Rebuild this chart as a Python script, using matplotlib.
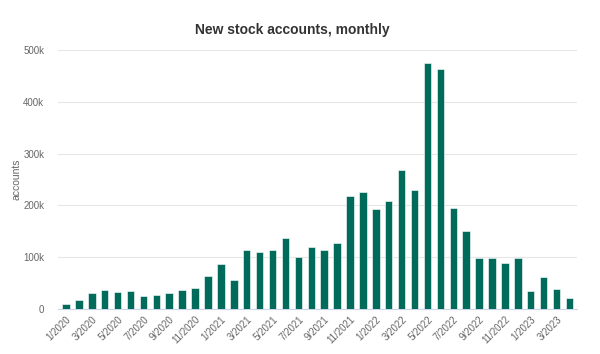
import matplotlib.pyplot as plt
from matplotlib.ticker import FuncFormatter

# monthly new stock accounts, 1/2020 .. 4/2023
months = [f"{m}/{y}" for y in range(2020, 2024) for m in range(1, 13)][:40]
accounts = [9, 17, 31, 36, 33, 34, 26, 28, 31, 36,
            41, 63, 86, 56, 113, 110, 113, 138, 100, 120,
            113, 128, 219, 225, 193, 209, 269, 229, 474, 464,
            195, 151, 98, 98, 88, 98, 34, 62, 39, 22]
accounts = [a * 1000 for a in accounts]

plt.rcParams['font.family'] = ['Liberation Sans', 'DejaVu Sans']

fig = plt.figure(figsize=(6, 3.54), dpi=100)
ax = fig.add_axes([0.097, 0.127, 0.865, 0.732])

x = range(len(months))
ax.bar(x, accounts, width=0.58, color='#006a5b', edgecolor='white', linewidth=0.4, zorder=3)

ax.set_xlim(-0.6, len(months) - 0.4)
ax.set_ylim(0, 500000)
ax.set_yticks([0, 100000, 200000, 300000, 400000, 500000])
ax.yaxis.set_major_formatter(FuncFormatter(lambda v, p: '0' if v == 0 else f'{int(v / 1000)}k'))
ax.grid(axis='y', color='#e6e6e6', linewidth=0.8, zorder=0)

ax.set_xticks(list(x)[::2])
ax.set_xticklabels(months[::2], rotation=45, ha='right', rotation_mode='anchor')

for s in ['top', 'right', 'left']:
    ax.spines[s].set_visible(False)
ax.spines['bottom'].set_color('#ccd6eb')
ax.tick_params(axis='both', length=0, labelsize=7, colors='#666666')
ax.tick_params(axis='x', pad=4)
ax.tick_params(axis='y', pad=10)

ax.set_ylabel('accounts', fontsize=7.5, color='#666666', labelpad=1)
fig.suptitle('New stock accounts, monthly', x=0.488, y=0.935, fontsize=10,
             fontweight='bold', color='#333333')

fig.savefig('out.png', dpi=100)
